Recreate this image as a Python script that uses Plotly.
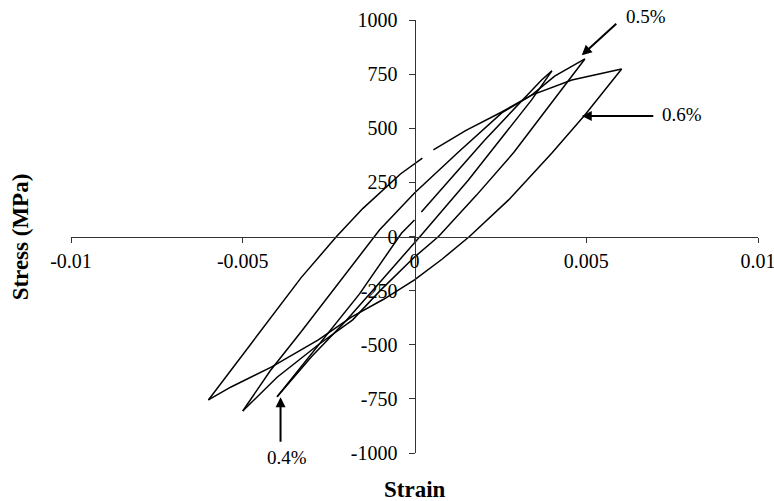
import plotly.graph_objects as go

# ---- data (strain, stress in MPa) ----
strain_06_up = [-0.0060, -0.0047, -0.0033, -0.00227, -0.0015, -0.0004, 0.00023, None,
                0.00055, 0.0015, 0.00254, 0.00341, 0.00458, 0.00603]
stress_06_up = [-755, -485, -190, 0, 130, 290, 362, None,
                400, 490, 575, 653, 723, 774]
strain_06_dn = [0.00603, 0.00496, 0.0040, 0.00274, 0.0016, 0.0008, 0.0, -0.0009,
                -0.00184, -0.0028, -0.00417, -0.00534, -0.0060]
stress_06_dn = [774, 561, 386, 169, 0, -105, -200, -290,
                -372, -478, -603, -695, -755]

strain_05_up = [-0.0050, -0.0042, -0.0033, -0.0021, -0.00102, 0.0, 0.00128,
                0.00254, 0.00341, 0.00408, 0.00496]
stress_05_up = [-806, -620, -440, -193, 30, 201, 390, 571, 653, 741, 820]
strain_05_dn = [0.00496, 0.0040, 0.0029, 0.0018, 0.0007, 0.0, -0.0010,
                -0.0018, -0.0028, -0.0040, -0.0050]
stress_05_dn = [820, 617, 390, 190, 0, -95, -250, -385, -500, -650, -806]

strain_04_up = [-0.0040, -0.0029, -0.0016, -0.00038, 0.0, None, 0.0002,
                0.00204, 0.0037, 0.0040]
stress_04_up = [-740, -524, -265, 15, 76, None, 113, 445, 723, 765]
strain_04_dn = [0.0040, 0.00341, 0.00157, 0.0002, -0.0010, -0.0020, -0.0030, -0.0040]
stress_04_dn = [765, 631, 261, 7, -210, -390, -555, -740]

x_ticks = [-0.01, -0.005, 0, 0.005, 0.01]
x_tick_labels = ["-0.01", "-0.005", "0", "0.005", "0.01"]
y_ticks = [-1000, -750, -500, -250, 0, 250, 500, 750, 1000]
y_tick_labels = ["-1000", "-750", "-500", "-250", "0", "250", "500", "750", "1000"]

loop_labels = ["0.5%", "0.6%", "0.4%"]
# arrow tips (strain, stress) pointing at each loop
arrow_strain = [0.00487, 0.00487, -0.0039]
arrow_stress = [837, 557, -742]

SERIF = "Liberation Serif, Times New Roman, serif"

fig = go.Figure()
branches = [
    (strain_06_up, stress_06_up), (strain_06_dn, stress_06_dn),
    (strain_05_up, stress_05_up), (strain_05_dn, stress_05_dn),
    (strain_04_up, stress_04_up), (strain_04_dn, stress_04_dn),
]
for xs, ys in branches:
    fig.add_trace(go.Scatter(x=xs, y=ys, mode="lines",
                             line=dict(color="black", width=1.5),
                             connectgaps=False, showlegend=False,
                             hoverinfo="skip"))

axis_common = dict(showgrid=False, zeroline=False, showline=True,
                   linecolor="#333333", linewidth=1, ticks="outside",
                   tickcolor="#333333", tickwidth=1, automargin=False,
                   ticklabeloverflow="allow",
                   tickfont=dict(family=SERIF, size=20, color="black"))

fig.update_layout(
    width=774, height=501,
    margin=dict(l=71, r=16, t=20, b=48),
    paper_bgcolor="white", plot_bgcolor="white",
    xaxis=dict(range=[-0.0100001, 0.0100001], anchor="free", position=0.5,
               tickvals=x_ticks, ticktext=x_tick_labels, ticklen=5,
               ticklabelstandoff=1, **axis_common),
    yaxis=dict(range=[-1000.01, 1000.01], anchor="free", position=0.5,
               tickvals=y_ticks, ticktext=y_tick_labels, ticklen=6,
               ticklabelstandoff=7, **axis_common),
)

# axis titles
fig.add_annotation(text="<b>Stress (MPa)</b>", xref="paper", yref="paper",
                   x=-0.073, y=0.5, textangle=-90, showarrow=False,
                   xanchor="center", yanchor="middle",
                   font=dict(family=SERIF, size=23, color="black"))
fig.add_annotation(text="<b>Strain</b>", xref="paper", yref="paper",
                   x=0.5, y=-0.085, showarrow=False,
                   xanchor="center", yanchor="middle",
                   font=dict(family=SERIF, size=23, color="black"))

# loop labels and arrows
label_pos = [(0.837, 1.009), (0.889, 0.781), (0.314, -0.0115)]
arrow_off = [(36, -33), (73, 0), (0, 46)]
for lab, (px, py), sx, sy, (ax, ay) in zip(loop_labels, label_pos,
                                           arrow_strain, arrow_stress, arrow_off):
    fig.add_annotation(text=lab, xref="paper", yref="paper", x=px, y=py,
                       showarrow=False, xanchor="center", yanchor="middle",
                       font=dict(family=SERIF, size=19, color="black"))
    fig.add_annotation(text="", x=sx, y=sy, xref="x", yref="y",
                       ax=ax, ay=ay, showarrow=True, arrowhead=2,
                       arrowsize=1, arrowwidth=2, arrowcolor="black")

fig.write_html("out.html", config={"displayModeBar": False},
               post_script="document.body.style.margin='0';")
